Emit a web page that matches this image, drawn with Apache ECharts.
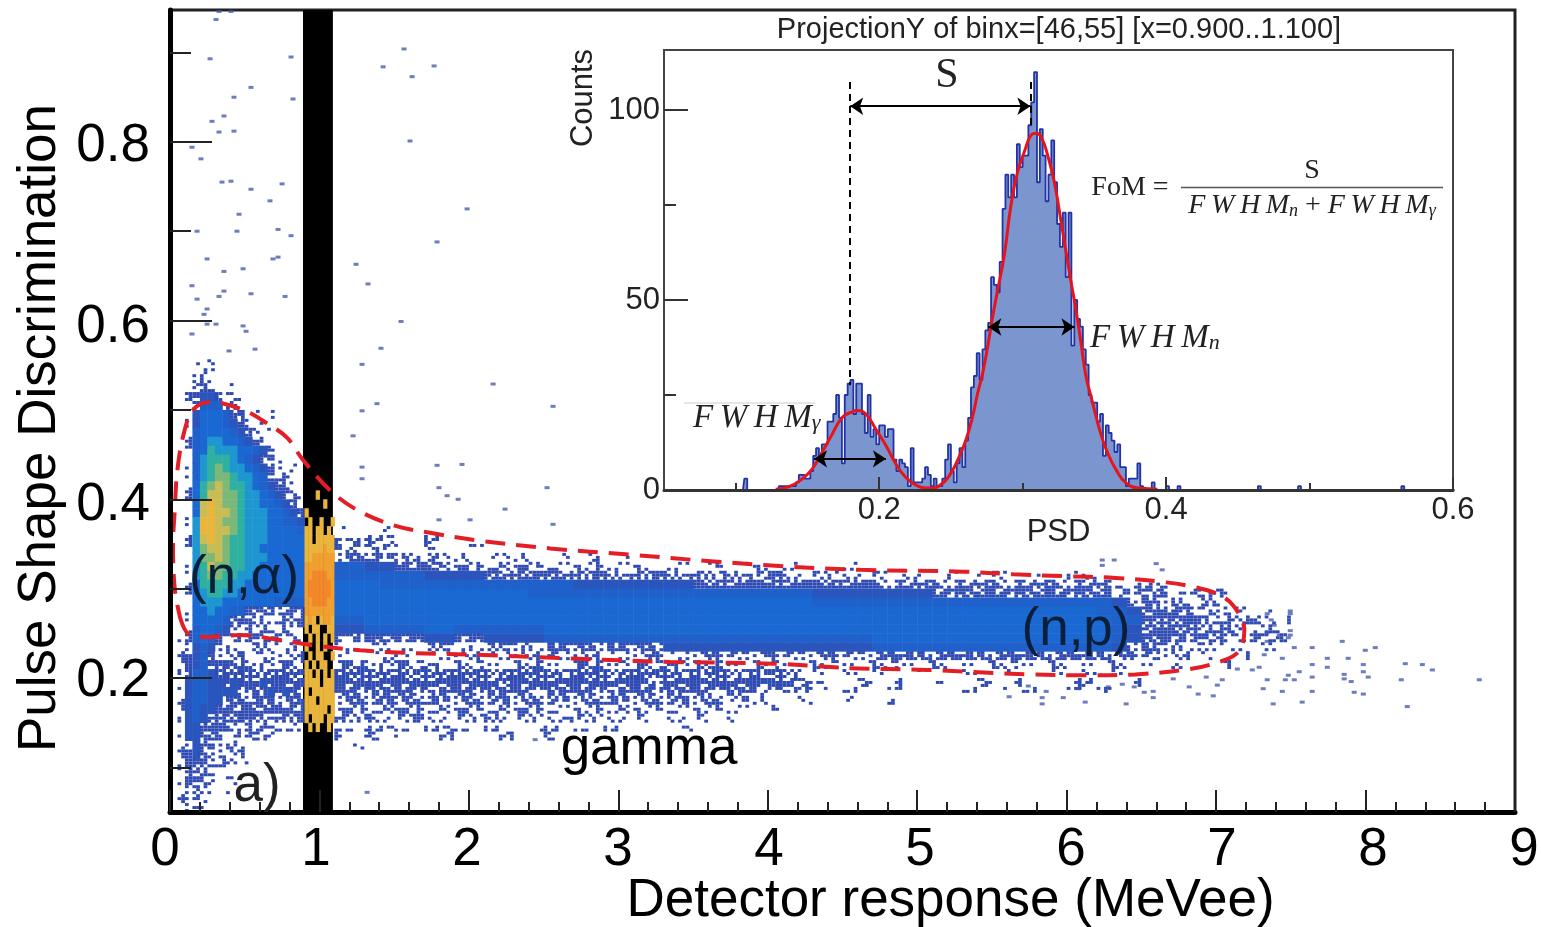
<!DOCTYPE html>
<html>
<head>
<meta charset="utf-8">
<title>Pulse Shape Discrimination</title>
<script src="https://cdn.jsdelivr.net/npm/echarts@6/dist/echarts.min.js"></script>
<style>
    html, body { margin: 0; padding: 0; background: #fff; }
    #main { width: 1541px; height: 927px; }
</style>
</head>
<body>
<div id="main"></div>
<script>
// 2D histogram, one string per PSD row, top row first.
// . empty, 1-3 speckled, 4-9 a-d solid colour steps
const leftRowsTopPsd = 0.56;   // x 0..0.9, cells 0.05 x 0.01
const leftRows = [
    '...1.1............',
    '...121............',
    '...1211...........',
    '...2321.1.........',
    '..12442111........',
    '..125552211.......',
    '..14666532.1.1....',
    '..146665431.1.....',
    '..1566665431.1....',
    '..15677665431.....',
    '..156877766542.1..',
    '..1578887654321...',
    '..1578987765432.1.',
    '..15789987765321..',
    '..1689a9887654321.',
    '..168aa99877654321',
    '..16aba99877665432',
    '..16abaa9877766543',
    '..17bba99877766554',
    '..17bbaa9877766665',
    '..17aba98877766666',
    '..179aa98877666666',
    '..1799a98877766666',
    '..178a998877666666',
    '..1789988776666666',
    '..1688887766666666',
    '..1678877666666666',
    '..1677766666665555',
    '..1667665533332333',
    '..1666653221212122',
    '..1566542121211212',
    '.12565321212112121',
    '.13454321212211121',
    '.13453221211212211',
    '.13453323221222221',
    '.13554333333233332',
    '.14554434333433333',
    '.14554444333343433',
    '.14554433333333333',
    '.14544333333333233',
    '.14543333333222222',
    '.14433322221211122',
    '.1443322121211...',
    '.1343221211......',
    '.134322111.1.....',
    '.13332211.1......',
    '.1332211.........',
    '.13221.11........',
    '.13211.1.........',
    '.1221............',
    '..1211...........'
];

const bandRowsTopPsd = 0.42;   // x 0.9..1.1, cells 0.025 x 0.01, empty shows the black strip
const bandRows = [
    '........', '...b....', '.....b..', 'b.......', '.b..b..b', 'bb.bb.b.', 'bb.bbbbb',
    'bbbbbcbb', 'bbcccccc', 'cccccccc', 'ccddddcc', 'cddddddc', 'cddddddc', 'ccddddcc',
    'cccccccc', 'bcb.bccb', 'b.bb..bb', '.b.b.b.b', 'b..b.b..', '.b.bb..b', 'b.b.bb..',
    'bb.b.b.b', 'bbbb.bbb', 'b.bbbbbb', 'bbb.bbbb', 'bbbbbb.b', 'b.bbb.bb', '.b.b..b.'
];

const rightRowsTopPsd = 0.37;  // x from 1.1, cells 0.1 x 0.01, spaces only for reading
const rightRows = [
    '1..1',
    '1211 ..1.',
    '2221 1.1. .1..',
    '3332 2121 1.11 1..1 .1.1',
    '5544 3332 2222 2121 1211 1.11 .1.1 1.1. ..1.',
    '5555 5544 4433 3333 2222 2222 2122 1211 1111 1.11 .1.1 1..1 .11.',
    '6665 5555 5555 5555 4444 4444 3333 3333 3333 2222 2222 2222 2222 1111',
    '6666 6666 6666 6555 5555 5555 5555 5555 4444 4444 3333 3333 3333 2222 1111',
    '6666 6666 6666 6666 6666 6666 6666 6666 5555 5555 5555 5555 5555 4332 2121',
    '6666 6666 6666 6666 6666 6666 6666 6666 6666 6666 6666 6666 6665 5433 3221 1.1.',
    '5566 6666 6666 6666 6666 6666 6666 6666 6666 6666 6666 6666 6666 5533 3322 1211',
    '4455 5566 5555 5566 6666 6666 6666 6666 6666 6666 6666 6666 6666 5433 3322 2121',
    '2233 3344 3344 4455 5555 5555 5555 5555 5555 6666 6666 6666 6666 5433 3221 1211',
    '1111 1122 1222 2233 3333 3344 4444 4444 4444 5555 5555 5555 5555 4332 2211 1.1.',
    '1.11 1.11 1111 1121 1111 1211 2222 2222 2222 3333 3333 3333 3333 2221 111. .1..',
    '2212 2121 1111 1211 2212 2122 1211 1111 1111 1111 1.11 1111 1.11 1.1. 1..1',
    '3333 3233 3323 3332 3323 3332 2322 2221 1.1. 1..1 ..1. .1.. 1.1. 1...',
    '3333 3333 3332 3333 3333 3233 3323 3321 1..1 .1.. 1..1 .1.. .11. .1..',
    '3333 3323 3333 3233 3323 3332 3232 2211 1.1. .1.. ..1. 1.1. .1.1',
    '3323 3232 3223 2322 2232 2223 2212 1..1 ..1. .1..',
    '2222 2222 2122 2221 1212 1121 1111 .1..',
    '2121 1211 1121 1112 1111 1.11 1.1.',
    '1111 1.11 1.1. .11. 1.1. ...1',
    '1.1. 1..1 ...1 ..1.',
    '.1..'
];

const levelColors = [null, '#2f4ab2', '#2f4ab2', '#2f4ab2', '#2a55bd', '#1f60cb', '#1a68d2',
    '#1e96d0', '#2fb0a0', '#7cb878', '#c8bd55', '#e9b53c', '#f0a030', '#f2882a'];

// isolated events [MeVee, PSD]
const outlierPoints = [
    [.328,.946],[.408,.946],[.308,.937],[.268,.893],[.810,.895],[.542,.861],[.428,.850],[.823,.848],
    [.361,.829],[.281,.823],[.328,.811],[.428,.812],[.147,.794],[.207,.781],[.348,.755],[.408,.756],
    [.542,.747],[.750,.753],[.669,.734],[.462,.719],[.181,.700],[.448,.700],[.723,.702],[.810,.695],
    [.248,.669],[.689,.669],[.723,.671],[.361,.655],[.489,.658],[.147,.639],[.361,.633],[.328,.627],
    [.542,.630],[.770,.627],[.181,.624],[.248,.613],[.228,.607],[.248,.596],[.308,.596],[.489,.594],
    [.509,.588],[.147,.585],[.395,.566],[.569,.568],
    [1.566,.904],[1.767,.885],[1.620,.873],[1.426,.884],[1.606,.801],[1.787,.688],[1.245,.663],[1.325,.641],
    [1.546,.599],[1.412,.569],[1.285,.551],[1.385,.507],[1.285,.499],[1.225,.471],[2.162,.529],[2.563,.504],
    [1.787,.438],[1.954,.439],[1.285,.436],[1.285,.423],[1.800,.413],[2.523,.413],[1.854,.404],[1.928,.400],
    [2.242,.389],[1.800,.377],[2.008,.377],[2.563,.372],[2.443,.131],[1.319,.072],[1.988,.725],
    [6.238,.332],[6.238,.326],[6.318,.332],[6.599,.328],[6.639,.321],[7.496,.275],[7.496,.272],[7.496,.253],
    [7.496,.248],[7.342,.272],[7.369,.265],[7.389,.259],[7.342,.251],[7.422,.248],[7.483,.245],[7.342,.241],
    [7.322,.226],[7.523,.234],[7.643,.234],[7.443,.222],[7.643,.215],[7.744,.222],[7.744,.212],[7.844,.241],
    [7.884,.222],[7.998,.231],[8.065,.234],[7.985,.215],[7.985,.207],[8.018,.201],[7.857,.204],[7.857,.199],
    [7.904,.196],[8.266,.216],[8.380,.215],[8.447,.209],[8.239,.198],[8.761,.198],[8.279,.168],[7.924,.184],
    [7.985,.182],[7.576,.173],[7.382,.171],[7.643,.185],[7.443,.185],[7.315,.188],[7.342,.198],[7.463,.198],
    [7.523,.198],[7.643,.201],[7.556,.207],[7.483,.203],[7.288,.212],[7.242,.209],[7.142,.210],[6.981,.180],
    [6.880,.182],[6.820,.190],[7.008,.192],[7.041,.198],[6.934,.201],[6.713,.199],[6.519,.184],[6.579,.185],
    [6.579,.178],[6.398,.171],[6.124,.173],[5.977,.178],[5.836,.171],[5.836,.178],[5.863,.185],[5.743,.191],
    [5.615,.179],[6.278,.190],[6.077,.188],[6.372,.193],[6.452,.190]
];

// Red dashed selection around the neutron events
const contourPoints = [
    [.067,.268],[.134,.248],[.268,.246],[.469,.248],[.716,.243],[.937,.237],[1.272,.231],[1.606,.228],
    [2.055,.226],[2.657,.222],[3.347,.218],[4.036,.216],[4.552,.211],[5.067,.209],[5.756,.204],[6.124,.203],
    [6.459,.204],[6.781,.209],[6.961,.215],[7.142,.228],[7.189,.253],[7.115,.281],[7.008,.294],[6.847,.302],
    [6.667,.307],[6.325,.312],[5.984,.314],[5.643,.316],[5.308,.319],[4.618,.321],[4.103,.325],[3.594,.331],
    [3.079,.338],[2.544,.345],[2.055,.354],[1.720,.363],[1.493,.371],[1.252,.388],[1.071,.410],[.890,.444],
    [.783,.469],[.649,.485],[.489,.500],[.268,.509],[.154,.500],[.087,.470],[.047,.429],[.033,.391],
    [.020,.347],[.033,.298],[.067,.268]
];

// Inset: ProjectionY histogram
const histStart = 0.130;
const histStep = 0.002;
const histCounts = [
    1,1,1,1,1,1,2,4,4,3,3,5,
    9,11,9,12,12,18,18,20,25,19,7,25,
    28,29,20,28,28,20,15,25,14,16,12,17,
    17,14,16,16,8,5,8,7,6,1,11,2,
    2,2,3,6,4,1,3,1,1,3,8,
    12,5,2,7,11,6,13,19,27,30,36,29,37,42,44,56,54,52,60,
    74,83,77,83,77,91,85,88,88,96,102,110,81,95,88,76,83,92,81,70,64,73,56,73,
    38,50,45,43,37,33,25,23,23,18,20,9,17,15,13,10,12,6,6,1,3,3,3,7,1,0,0,0,2
];
const strayPsd = [0.107, 0.399, 0.407, 0.463, 0.491, 0.565];
const strayCounts = [3, 1, 1, 1, 1, 1];

const fitPsd = [.1278,.1372,.1463,.1532,.1602,.1672,.1742,.1802,.1849,.1907,.1977,.2047,.2117,.2186,.2256,.2326,.2372,.2419,
    .2489,.2558,.2605,.2651,.2686,.2721,.2756,.2791,.2826,.2872,.2919,.2965,.3012,.3059,.3094,.3128,.3175,.3221,.3268,.3314,
    .3338,.3372,.3407,.3442,.3477,.3512,.3547,.3593,.3652,.3722,.3814,.394];
const fitCounts = [.2,.9,2.9,5.5,9.9,14.7,19.1,20.4,20.9,20,16,11.7,6.8,3.3,1.3,.5,.5,1.1,
    3.8,8.8,13.2,19.3,25.4,30.7,37.7,45.6,52.6,61.8,75,83.7,89,93.4,93.9,93,88,81,70.6,60,
    54.6,47.4,38.6,29.8,24.6,19.3,14.5,9.7,5.3,1.8,.5,.2];

const peakGamma = 0.1798;
const peakNeutron = 0.3054;
const mainYTicks = { labelled: [0.2, 0.4, 0.6, 0.8], short: [0.1, 0.3, 0.5, 0.7, 0.9] };
// the printed numbers sit a few pixels under their ticks in the picture
const mainYLabelSpots = [0.1965, 0.3935, 0.592, 0.7955];
const insetXTicks = { labelled: [0.2, 0.4, 0.6], short: [0.1, 0.3, 0.5] };
const insetYTicks = { labelled: [0, 50, 100], short: [25, 75] };

const sansFont = '"Liberation Sans", Arial, sans-serif';
const serifFont = '"Liberation Serif", "Times New Roman", serif';
const fwhmWord = 'F\u2009W\u2009H\u2009M';


// Turn the row strings into cells [x0, x1, y0, y1, level]
function rowsToCells(rows, topPsd, xStart, xStep, yStep) {
    let cells = [];
    rows.forEach((row, r) => {
        let chars = row.replace(/ /g, '');
        for (let c = 0; c < chars.length; c++) {
            if (chars[c] === '.') continue;
            let top = topPsd - r * yStep;
            cells.push([xStart + c * xStep, xStart + (c + 1) * xStep, top - yStep, top, parseInt(chars[c], 16)]);
        }
    });
    return cells;
}

const densityCells = []
    .concat(rowsToCells(leftRows, leftRowsTopPsd, 0, 0.05, 0.01))
    .concat(rowsToCells(bandRows, bandRowsTopPsd, 0.9, 0.025, 0.01))
    .concat(rowsToCells(rightRows, rightRowsTopPsd, 1.1, 0.1, 0.01));

// Solid levels fill the cell, low levels only fill part of it so the edges look speckled
function renderDensityCell(params, api) {
    let level = api.value(4);
    let p = api.coord([api.value(0), api.value(3)]);
    let q = api.coord([api.value(1), api.value(2)]);
    let w = q[0] - p[0], h = q[1] - p[1];
    if (level >= 4) {
        return {
            type: 'rect',
            shape: { x: p[0], y: p[1], width: w + 0.5, height: h + 0.5 },
            style: { fill: levelColors[level] }
        };
    }
    let nx = Math.max(2, Math.round(w / 3.7));
    let ny = 3;
    let children = [];
    for (let i = 0; i < nx; i++) {
        for (let j = 0; j < ny; j++) {
            let gx = Math.round(p[0] / 3.7) + i, gy = Math.round(p[1] / 3) + j;
            if ((gx * 7 + gy * 13 + gx * gy * 3 + gx * gx * gy) % 16 < level * 4) {
                children.push({
                    type: 'rect',
                    shape: { x: p[0] + i * w / nx, y: p[1] + j * h / ny, width: w / nx, height: h / ny },
                    style: { fill: levelColors[level] }
                });
            }
        }
    }
    return { type: 'group', children: children };
}

// Histogram on the full PSD range, empty bins stay at zero
let histBins = [];
for (let i = 0; i <= 275; i++) histBins.push([0.05 + i * histStep + histStep / 2, 0]);
function addBin(psd, count) {
    let i = Math.round((psd - 0.05) / histStep);
    if (histBins[i]) histBins[i][1] = count;
}
histCounts.forEach((count, i) => addBin(histStart + i * histStep, count));
strayPsd.forEach((psd, i) => addBin(psd, strayCounts[i]));

const fitLine = fitPsd.map((psd, i) => [psd, fitCounts[i]]);

function arrowLine(a, b, y) {
    return [{ coord: [a, y], symbol: 'arrow', symbolSize: 13 }, { coord: [b, y], symbol: 'arrow', symbolSize: 13 }];
}
function dashLine(x, y0, y1) {
    return [
        { coord: [x, y0], symbol: 'none', lineStyle: { type: [7, 5], width: 2, color: '#000' } },
        { coord: [x, y1], symbol: 'none' }
    ];
}

function fwhmText(x, y, sub, size) {
    return {
        type: 'text', x: x, y: y, z: 20,
        style: {
            text: '{i|' + fwhmWord + '}{s|' + sub + '}',
            align: 'left', verticalAlign: 'middle',
            rich: {
                i: { font: 'italic ' + size + 'px ' + serifFont, fill: '#222', color: '#222' },
                s: { font: 'italic ' + Math.round(size * 0.66) + 'px ' + serifFont, fill: '#222', color: '#222', verticalAlign: 'bottom', padding: [10, 0, 0, 0] }
            }
        }
    };
}
function plainText(text, x, y, font, color) {
    return {
        type: 'text', x: x, y: y, z: 20,
        style: { text: text, font: font, fill: color || '#000', align: 'center', verticalAlign: 'middle' }
    };
}


let mainChart = echarts.init(document.getElementById('main'), null, { renderer: 'canvas' });

let mainOption = {
    animation: false,
    backgroundColor: '#fff',
    grid: [
        { left: 170, top: 10, right: 26, bottom: 115, outerBoundsMode: 'none', show: true, borderWidth: 3, borderColor: '#222', backgroundColor: '#fff' },
        { left: 165, top: 10, right: 17, bottom: 115, outerBoundsMode: 'none' },
        { left: 664, top: 50, width: 789, height: 440, outerBoundsMode: 'none', show: true, borderWidth: 2, borderColor: '#444', backgroundColor: '#fff', z: 1 }
    ],
    xAxis: [
        {
            gridIndex: 0, type: 'value', min: 0, max: 9, interval: 1, position: 'bottom', z: 5,
            axisLine: { lineStyle: { color: '#000', width: 5 } },
            axisTick: { inside: true, length: 22, lineStyle: { color: '#222', width: 2 } },
            minorTick: { show: true, splitNumber: 5, length: 10, lineStyle: { color: '#222', width: 2 } },
            axisLabel: { show: false },
            splitLine: { show: false }
        },
        {
            // labels of the main x axis sit on their own slightly wider scale, as in the picture
            gridIndex: 1, type: 'value', min: 0, max: 9, interval: 1, position: 'bottom',
            name: 'Detector response (MeVee)', nameLocation: 'middle', nameGap: 63, nameMoveOverlap: false,
            nameTextStyle: { fontFamily: sansFont, fontSize: 53, color: '#000', padding: [0, 0, 0, 212] },
            axisLine: { show: false }, axisTick: { show: false }, splitLine: { show: false },
            axisLabel: { fontFamily: sansFont, fontSize: 53, color: '#000', margin: 12, showMinLabel: true, showMaxLabel: true, hideOverlap: false }
        },
        {
            gridIndex: 2, type: 'value', min: 0.05, max: 0.6, position: 'bottom', z: 6,
            name: 'PSD', nameLocation: 'middle', nameGap: 27, nameMoveOverlap: false,
            nameTextStyle: { fontFamily: sansFont, fontSize: 31, color: '#222' },
            axisLine: { lineStyle: { color: '#333', width: 3 } },
            axisTick: { inside: true, length: 13, customValues: insetXTicks.labelled, lineStyle: { color: '#333', width: 2 } },
            axisLabel: { customValues: insetXTicks.labelled, fontFamily: sansFont, fontSize: 31, color: '#222', margin: 5, formatter: v => v.toFixed(1) },
            splitLine: { show: false }
        },
        {
            gridIndex: 2, type: 'value', min: 0.05, max: 0.6, position: 'bottom', z: 6,
            axisLine: { show: false },
            axisTick: { inside: true, length: 7, customValues: insetXTicks.short, lineStyle: { color: '#333', width: 2 } },
            axisLabel: { show: false },
            splitLine: { show: false }
        }
    ],
    yAxis: [
        {
            gridIndex: 0, type: 'value', min: 0.05, max: 0.9476, position: 'left', z: 5,
            name: 'Pulse Shape Discrimination', nameLocation: 'middle', nameGap: 103, nameMoveOverlap: false,
            nameTextStyle: { fontFamily: sansFont, fontSize: 53, color: '#000', padding: [0, 34, 0, 0] },
            axisLine: { lineStyle: { color: '#000', width: 5 } },
            axisTick: { inside: true, length: 42, customValues: mainYTicks.labelled, lineStyle: { color: '#222', width: 2 } },
            axisLabel: { customValues: mainYLabelSpots, fontFamily: sansFont, fontSize: 53, color: '#000', margin: 20, formatter: v => v.toFixed(1) },
            splitLine: { show: false }
        },
        {
            gridIndex: 0, type: 'value', min: 0.05, max: 0.9476, position: 'left', z: 5,
            axisLine: { show: false },
            axisTick: { inside: true, length: 21, customValues: mainYTicks.short, lineStyle: { color: '#222', width: 2 } },
            axisLabel: { show: false },
            splitLine: { show: false }
        },
        { gridIndex: 1, type: 'value', min: 0, max: 1, show: false },
        {
            gridIndex: 2, type: 'value', min: 0, max: 115.8, position: 'left', z: 6,
            name: 'Counts', nameLocation: 'middle', nameGap: 65, nameMoveOverlap: false,
            nameTextStyle: { fontFamily: sansFont, fontSize: 31, color: '#222', padding: [0, 0, 0, 344] },
            axisLine: { lineStyle: { color: '#444', width: 2 } },
            axisTick: { inside: true, length: 24, customValues: insetYTicks.labelled, lineStyle: { color: '#333', width: 2 } },
            axisLabel: { customValues: insetYTicks.labelled, fontFamily: sansFont, fontSize: 31, color: '#222', margin: 4 },
            splitLine: { show: false }
        },
        {
            gridIndex: 2, type: 'value', min: 0, max: 115.8, position: 'left', z: 6,
            axisLine: { show: false },
            axisTick: { inside: true, length: 12, customValues: insetYTicks.short, lineStyle: { color: '#333', width: 2 } },
            axisLabel: { show: false },
            splitLine: { show: false }
        }
    ],
    series: [
        {
            name: 'density', type: 'custom', xAxisIndex: 0, yAxisIndex: 0, z: 2,
            silent: true, clip: true,
            data: densityCells,
            encode: { x: [0, 1], y: [2, 3] },
            renderItem: renderDensityCell,
            markArea: {
                silent: true, z: 1,
                itemStyle: { color: '#000', opacity: 1 },
                data: [[{ xAxis: 0.89, yAxis: 0.05 }, { xAxis: 1.09, yAxis: 0.9476 }]]
            }
        },
        {
            name: 'events', type: 'scatter', xAxisIndex: 0, yAxisIndex: 0, z: 3, silent: true,
            symbol: 'rect', symbolSize: [5, 3],
            itemStyle: { color: '#3d52a8', opacity: 0.75 },
            data: outlierPoints
        },
        {
            name: 'selection', type: 'line', xAxisIndex: 0, yAxisIndex: 0, z: 4, silent: true,
            smooth: 0.35, showSymbol: false,
            lineStyle: { color: '#e41e26', width: 4, type: [20, 11] },
            data: contourPoints
        },
        {
            name: 'projection', type: 'line', xAxisIndex: 2, yAxisIndex: 3, z: 3, silent: true,
            step: 'middle', showSymbol: false,
            lineStyle: { color: '#2233a5', width: 1.8 },
            areaStyle: { color: '#7b96cf', opacity: 1 },
            data: histBins
        },
        {
            name: 'fit', type: 'line', xAxisIndex: 2, yAxisIndex: 3, z: 4, silent: true,
            smooth: true, showSymbol: false,
            lineStyle: { color: '#e8141c', width: 3 },
            data: fitLine,
            markLine: {
                silent: true, animation: false, label: { show: false },
                lineStyle: { color: '#000', width: 2, type: 'solid' },
                data: [
                    arrowLine(peakGamma, peakNeutron, 101),
                    arrowLine(0.2761, 0.3361, 42.9),
                    arrowLine(0.1546, 0.2047, 8.2),
                    dashLine(peakGamma, 107.4, 27.6),
                    dashLine(peakNeutron, 107.4, 95)
                ]
            }
        }
    ],
    graphic: [
        plainText('ProjectionY of binx=[46,55] [x=0.900..1.100]', 1059, 30, '29px ' + sansFont, '#222'),
        plainText('(n,\u03b1)', 244, 578, '53px ' + sansFont, '#0b1f3a'),
        plainText('(n,p)', 1076, 630, '53px ' + sansFont, '#0b1f3a'),
        plainText('gamma', 649, 749, '53px ' + sansFont, '#000'),
        plainText('a)', 257, 786, '53px ' + sansFont, '#222'),
        plainText('S', 947, 76, '42px ' + serifFont, '#222'),
        plainText('FoM =', 1130, 188, '28px ' + serifFont, '#222'),
        plainText('S', 1312, 171, '28px ' + serifFont, '#222'),
        { type: 'line', z: 20, shape: { x1: 1181, y1: 187.5, x2: 1443, y2: 187.5 }, style: { stroke: '#555', lineWidth: 1.5 } },
        { type: 'line', z: 20, shape: { x1: 684, y1: 403, x2: 815, y2: 403 }, style: { stroke: '#ccc', lineWidth: 1 } },
        {
            type: 'text', x: 1312, y: 206, z: 20,
            style: {
                text: '{i|' + fwhmWord + '}{s|n}{p| + }{i|' + fwhmWord + '}{s|\u03b3}',
                align: 'center', verticalAlign: 'middle',
                rich: {
                    i: { font: 'italic 28px ' + serifFont, fill: '#222', color: '#222' },
                    p: { font: '28px ' + serifFont, fill: '#222', color: '#222' },
                    s: { font: 'italic 18px ' + serifFont, fill: '#222', color: '#222', verticalAlign: 'bottom', padding: [8, 0, 0, 0] }
                }
            }
        },
        fwhmText(1090, 338, 'n', 33),
        fwhmText(693, 418, '\u03b3', 33)
    ]
};

mainChart.setOption(mainOption);
</script>
</body>
</html>
